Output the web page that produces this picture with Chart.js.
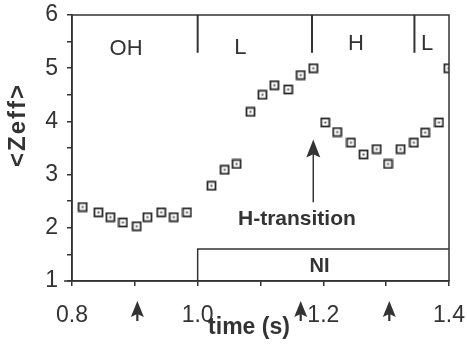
<!DOCTYPE html>
<html>
<head>
<meta charset="utf-8">
<script src="https://cdn.jsdelivr.net/npm/chart.js@4"></script>
<style>
  html, body { margin: 0; padding: 0; background: #fff; }
  #wrap { width: 467px; height: 345px; }
</style>
</head>
<body>
<div id="wrap"><canvas id="zeffChart" width="467" height="345"></canvas></div>
<script>
// ==================== DATA ====================

var times = [0.817, 0.842, 0.861, 0.881, 0.903, 0.920, 0.942, 0.962, 0.983,
             1.022, 1.043, 1.062, 1.084, 1.103, 1.122, 1.144, 1.164, 1.184,
             1.203, 1.222, 1.244, 1.264, 1.285, 1.303, 1.323, 1.344, 1.362, 1.384, 1.399];
var zeff  = [2.39, 2.29, 2.20, 2.10, 2.03, 2.20, 2.29, 2.20, 2.29,
             2.79, 3.09, 3.20, 4.18, 4.50, 4.68, 4.60, 4.87, 5.00,
             3.98, 3.80, 3.60, 3.38, 3.48, 3.20, 3.48, 3.60, 3.79, 3.98, 5.00];

var xTickLabels = ["0.8", "1.0", "1.2", "1.4"];
var yTickLabels = ["1", "2", "3", "4", "5", "6"];

// confinement phases along the top
var phaseBounds = [1.0, 1.182, 1.345];
var phaseNames  = ["OH", "L", "H", "L"];
var phaseTimes  = [0.886, 1.068, 1.252, 1.365];
var phaseLevels = [5.36, 5.38, 5.45, 5.45];

// neutral injection window
var niStart = 1.0, niEnd = 1.4, niTop = 1.6;

// arrows under the time axis
var markTimes = [0.904, 1.164, 1.305];

var INK = "#333333";
var FONT = "'Liberation Sans', Arial, Helvetica, sans-serif";

// ==================== MARKER ====================

function makeMarker() {
    var c = document.createElement("canvas");
    c.width = 11; c.height = 11;
    var g = c.getContext("2d");
    g.fillStyle = "#fff";
    g.fillRect(1, 1, 9, 9);
    g.strokeStyle = "#2a2a2a";
    g.lineWidth = 1.8;
    g.strokeRect(1.5, 1.5, 8, 8);
    g.fillStyle = "#555";
    g.fillRect(4.5, 4.5, 2, 2);
    return c;
}

function upArrow(ctx, x, yTop, headH, headW, stemLen) {
    ctx.beginPath();
    ctx.moveTo(x, yTop);
    ctx.lineTo(x + headW / 2, yTop + headH);
    ctx.lineTo(x, yTop + headH * 0.82);
    ctx.lineTo(x - headW / 2, yTop + headH);
    ctx.closePath();
    ctx.fill();
    ctx.beginPath();
    ctx.moveTo(x, yTop + headH * 0.5);
    ctx.lineTo(x, yTop + headH * 0.5 + stemLen);
    ctx.stroke();
}

// ==================== ANNOTATIONS ====================

var annotations = {
    id: "annotations",
    afterDatasetsDraw: function(chart) {
        var ctx = chart.ctx;
        var xs = chart.scales.x, ys = chart.scales.y;
        var a = chart.chartArea;
        ctx.save();
        ctx.strokeStyle = INK;
        ctx.fillStyle = INK;
        ctx.lineWidth = 1.5;

        // frame
        ctx.strokeRect(a.left, a.top, a.right - a.left, a.bottom - a.top);
        ctx.beginPath();
        ctx.moveTo(a.left - 8, a.bottom);
        ctx.lineTo(a.left, a.bottom);
        ctx.stroke();

        // phase separators and names
        ctx.lineWidth = 2;
        for (var i = 0; i < phaseBounds.length; i++) {
            var px = xs.getPixelForValue(phaseBounds[i]);
            ctx.beginPath();
            ctx.moveTo(px, ys.getPixelForValue(6));
            ctx.lineTo(px, ys.getPixelForValue(5.29));
            ctx.stroke();
        }
        ctx.font = "22px " + FONT;
        ctx.textAlign = "center";
        ctx.textBaseline = "middle";
        for (var j = 0; j < phaseNames.length; j++) {
            ctx.fillText(phaseNames[j], xs.getPixelForValue(phaseTimes[j]), ys.getPixelForValue(phaseLevels[j]));
        }

        // NI box
        ctx.lineWidth = 1.5;
        var nx0 = xs.getPixelForValue(niStart), nx1 = xs.getPixelForValue(niEnd);
        var ny = ys.getPixelForValue(niTop);
        ctx.beginPath();
        ctx.moveTo(nx0, a.bottom);
        ctx.lineTo(nx0, ny);
        ctx.lineTo(nx1, ny);
        ctx.stroke();
        ctx.font = "bold 20px " + FONT;
        ctx.fillText("NI", xs.getPixelForValue(1.194), ys.getPixelForValue(1.28));

        // H-transition arrow
        var hx = xs.getPixelForValue(1.184);
        ctx.lineWidth = 1.5;
        upArrow(ctx, hx, ys.getPixelForValue(3.66), 18, 14, ys.getPixelForValue(2.48) - ys.getPixelForValue(3.66) - 9);
        ctx.font = "bold 21px " + FONT;
        ctx.fillText("H-transition", xs.getPixelForValue(1.158), ys.getPixelForValue(2.16));

        // arrows under the axis
        ctx.lineWidth = 2.2;
        for (var k = 0; k < markTimes.length; k++) {
            upArrow(ctx, xs.getPixelForValue(markTimes[k]), a.bottom + 20, 16, 13, 12);
        }

        // axis titles
        ctx.font = "bold 23px " + FONT;
        ctx.fillText("time (s)", 249, 328);
        ctx.save();
        ctx.translate(18, 125);
        ctx.rotate(-Math.PI / 2);
        ctx.font = "bold 24px " + FONT;
        ctx.letterSpacing = "2px";
        ctx.fillText("<Zeff>", 0, 0);
        ctx.restore();

        ctx.restore();
    }
};

// ==================== CHART ====================

var points = [];
for (var i = 0; i < times.length; i++) {
    points.push({ x: times[i], y: zeff[i] });
}

new Chart(document.getElementById("zeffChart"), {
    type: "scatter",
    data: {
        datasets: [{
            data: points,
            pointStyle: makeMarker(),
            pointRadius: 5,
            clip: 0
        }]
    },
    options: {
        responsive: false,
        animation: false,
        layout: { padding: { top: 15, right: 18, left: 0, bottom: 0 } },
        plugins: { legend: { display: false }, tooltip: { enabled: false } },
        scales: {
            x: {
                type: "linear",
                min: 0.8, max: 1.4,
                afterFit: function(s) {
                    s.height = 64;
                    s.paddingLeft = 0; s.paddingRight = 0;
                },
                border: { display: true, color: INK, width: 1.5 },
                grid: { drawOnChartArea: false, drawTicks: true, tickLength: 5, color: INK, lineWidth: 1.5 },
                ticks: {
                    stepSize: 0.1,
                    color: INK,
                    padding: 16,
                    maxRotation: 0,
                    autoSkip: false,
                    font: { family: FONT, size: 23 },
                    callback: function(v) {
                        var s = Number(v).toFixed(1);
                        return xTickLabels.indexOf(s) >= 0 ? s : "";
                    }
                }
            },
            y: {
                min: 1, max: 6,
                afterFit: function(s) {
                    s.width = 72;
                    s.paddingTop = 0; s.paddingBottom = 0;
                },
                border: { display: true, color: INK, width: 1.5 },
                grid: { drawOnChartArea: false, drawTicks: true, tickLength: 5, color: INK, lineWidth: 1.5 },
                ticks: {
                    stepSize: 0.5,
                    color: INK,
                    padding: 9,
                    autoSkip: false,
                    font: { family: FONT, size: 23 },
                    callback: function(v) {
                        var s = String(v);
                        return yTickLabels.indexOf(s) >= 0 ? s : "";
                    }
                }
            }
        }
    },
    plugins: [annotations]
});
</script>
</body>
</html>
